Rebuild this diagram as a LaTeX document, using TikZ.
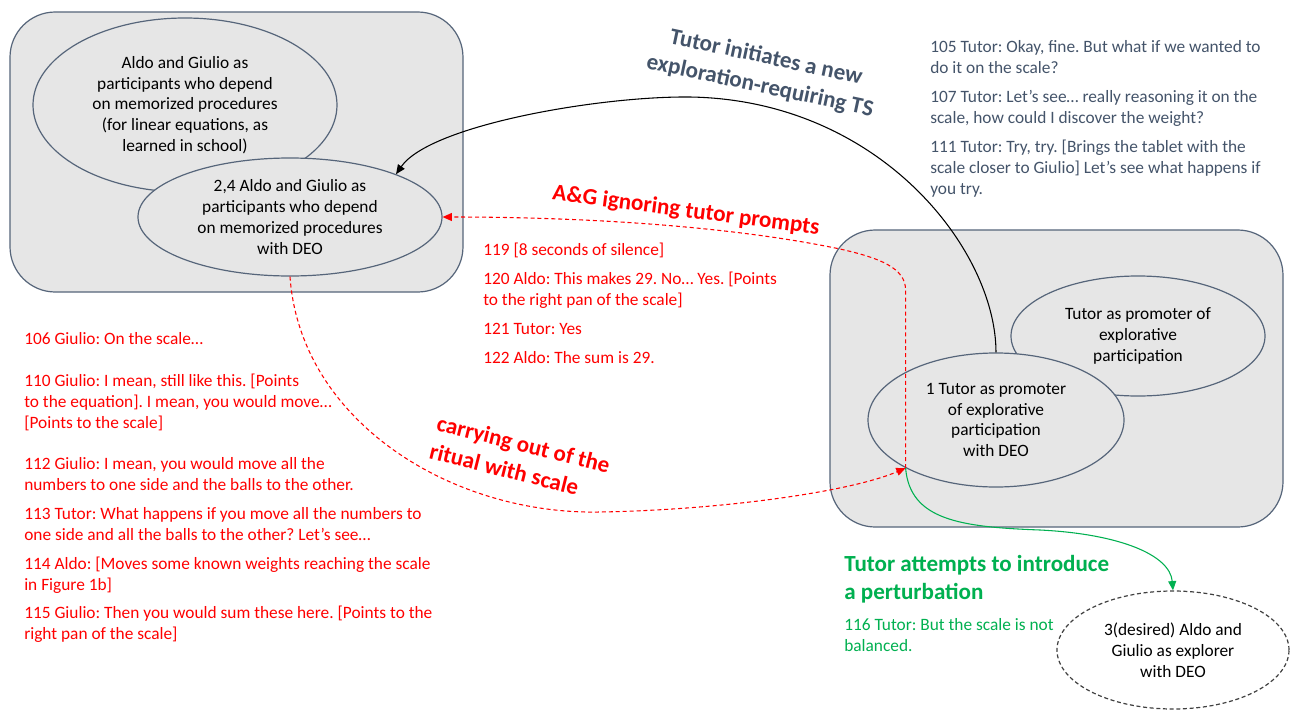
\documentclass[tikz,border=0pt]{standalone}
\usepackage{fontspec}
\setmainfont{Carlito}
\usetikzlibrary{shapes.geometric,arrows.meta}
\definecolor{boxfill}{HTML}{E6E6E6}
\definecolor{slate}{HTML}{44546A}
\definecolor{edgec}{HTML}{56657A}
\definecolor{gred}{HTML}{FF0000}
\definecolor{ggreen}{HTML}{00B050}
\frenchspacing
\begin{document}
\begin{tikzpicture}[x=0.75pt,y=-0.75pt,
  bigbox/.style={draw=edgec, fill=boxfill, rounded corners=34pt, line width=0.9pt},
  ell/.style={ellipse, draw=edgec, fill=boxfill, line width=0.9pt, inner sep=-10pt, align=center,
    font=\fontsize{13}{15.6}\selectfont, text=black},
  para/.style={anchor=base west, align=left, inner sep=0pt, font=\fontsize{13}{15.75}\selectfont},
  bigl/.style={align=center, inner sep=0pt, font=\fontsize{17.3}{22}\selectfont\bfseries},
  tip/.style={-{Triangle[length=7pt,width=6pt]}},
  reddash/.style={draw=gred, line width=0.8pt, dash pattern=on 3pt off 2.2pt, tip},
]
\useasboundingbox (0,0) rectangle (1290,711);
\fill[white] (0,0) rectangle (1290,711);

% boxes
\draw[bigbox] (10,12) rectangle (463,292);
\draw[bigbox] (830,230) rectangle (1283,527);

% ellipses left
\node[ell, minimum width=228pt, minimum height=130.5pt] (e1) at (185,105)
  {Aldo and Giulio as\\participants who depend\\on memorized procedures\\(for linear equations, as\\learned in school)};
\node[ell, minimum width=228pt, minimum height=88.5pt] (e2) at (290,217)
  {2,4 Aldo and Giulio as\\participants who depend\\on memorized procedures\\with DEO};

% ellipses right
\node[ell, minimum width=190.5pt, minimum height=90pt] (e3) at (1138,336)
  {Tutor as promoter of\\explorative\\participation};
\node[ell, minimum width=192pt, minimum height=100.5pt] (e4) at (996,420)
  {1 Tutor as promoter\\of explorative\\participation\\with DEO};

% desired ellipse
\node[ell, fill=white, draw=black!75, dash pattern=on 3pt off 2pt, minimum width=174pt, minimum height=88.5pt] (e5) at (1173,650)
  {3(desired) Aldo and\\Giulio as explorer\\with DEO};

% connectors
\draw[black, line width=0.8pt, tip] (e4.north) .. controls (996,250) and (880,100) .. (690,97)
  .. controls (600,96) and (430,125) .. (e2.22);
\draw[reddash] (e4.208) -- ++(0,-178) .. controls +(0,-22) and (880,258) .. (840,249)
  .. controls (740,228) and (600,217) .. (e2.east);
\draw[reddash] (e2.south) .. controls (300,420) and (450,515) .. (600,512)
  .. controls (720,510) and (850,492) .. (e4.208);
\draw[ggreen, line width=0.8pt, tip] (e4.208) .. controls (910,520) and (960,527) .. (1040,530)
  .. controls (1120,534) and (1170,555) .. (e5.north);

% labels on connectors
\node[bigl, text=slate, rotate=-12] (lts) at (763,72) {Tutor initiates a new\\exploration-requiring TS};
\node[bigl, text=gred, rotate=-7.5] (lag) at (686,211) {A\&G ignoring tutor prompts};
\node[bigl, text=gred, rotate=-14, align=left] (lcr) at (520,458) {carrying out of the\\ritual with scale};
\node[bigl, text=ggreen, anchor=base west, align=left, font=\fontsize{17.3}{21}\selectfont\bfseries] (lpt) at (844,599) {Tutor attempts to introduce\\a perturbation};

% top right transcript
\node[para, text=slate] (t105) at (930,73) {105 Tutor: Okay, fine. But what if we wanted to\\do it on the scale?};
\node[para, text=slate] (t107) at (930,123) {107 Tutor: Let’s see… really reasoning it on the\\scale, how could I discover the weight?};
\node[para, text=slate] (t111) at (930,194) {111 Tutor: Try, try. [Brings the tablet with the\\scale closer to Giulio] Let’s see what happens if\\you try.};

% middle transcript
\node[para, text=gred] (t119) at (483,255) {119 [8 seconds of silence]};
\node[para, text=gred] (t120) at (483,305) {120 Aldo: This makes 29. No… Yes. [Points\\to the right pan of the scale]};
\node[para, text=gred] (t121) at (483,334) {121 Tutor: Yes};
\node[para, text=gred] (t122) at (483,363) {122 Aldo: The sum is 29.};

% left transcript
\node[para, text=gred] (t106) at (24,344) {106 Giulio: On the scale…};
\node[para, text=gred] (t110) at (24,428) {110 Giulio: I mean, still like this. [Points\\to the equation]. I mean, you would move…\\{[}Points to the scale{]}};
\node[para, text=gred] (t112) at (24,490) {112 Giulio: I mean, you would move all the\\numbers to one side and the balls to the other.};
\node[para, text=gred] (t113) at (24,540) {113 Tutor: What happens if you move all the numbers to\\one side and all the balls to the other? Let’s see…};
\node[para, text=gred] (t114) at (24,590) {114 Aldo: [Moves some known weights reaching the scale\\in Figure 1b]};
\node[para, text=gred] (t115) at (24,639) {115 Giulio: Then you would sum these here. [Points to the\\right pan of the scale]};

% green transcript
\node[para, text=ggreen] (t116) at (844,651) {116 Tutor: But the scale is not\\balanced.};
\end{tikzpicture}
\end{document}
